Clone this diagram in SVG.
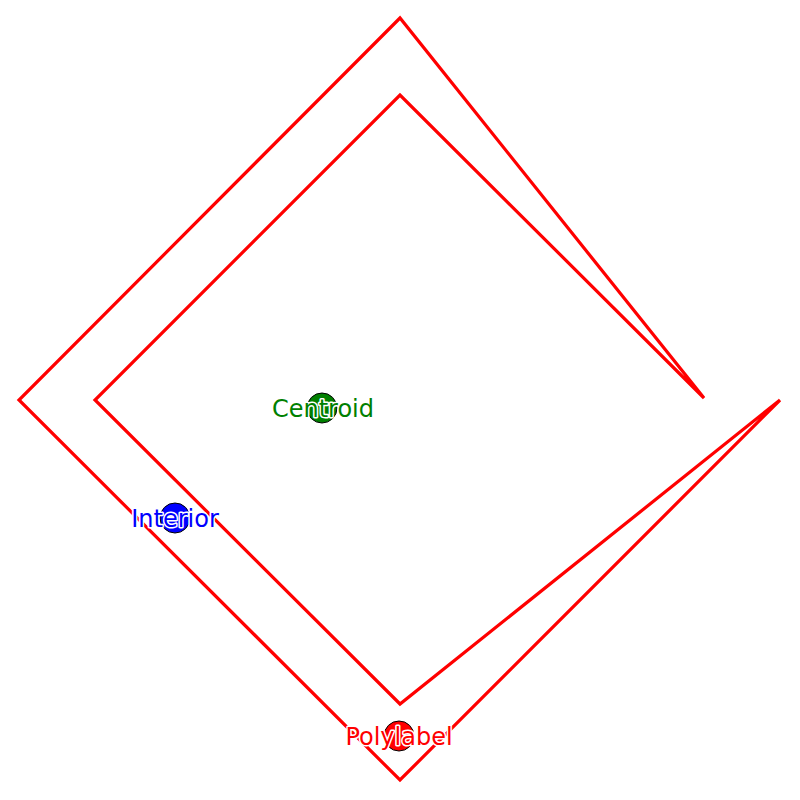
<svg xmlns="http://www.w3.org/2000/svg" width="800" height="800" viewBox="0 0 800 800">
<style>
.shape{fill:none;stroke:#ff0000;stroke-width:3.2;stroke-linejoin:miter;stroke-miterlimit:4}
.pt{stroke:#000;stroke-width:1}
.lbl{font-family:"DejaVu Sans",sans-serif;font-size:24px;text-anchor:middle;stroke:#fff;stroke-width:3;paint-order:stroke;stroke-linejoin:round}
</style>
<rect width="800" height="800" fill="#fff"/>
<g id="polygon">
<polygon class="shape" points="400,18 19,400 400,780 780,400 400,704 95,400 400,95 704,398"/>
</g>
<g id="centroid">
<circle class="pt" cx="322" cy="408" r="15" fill="#008000"/>
<text class="lbl" x="323" y="417" fill="#008000">Centroid</text>
</g>
<g id="interior">
<circle class="pt" cx="175" cy="518" r="15" fill="#0000ff"/>
<text class="lbl" x="175" y="527" fill="#0000ff">Interior</text>
</g>
<g id="polylabel">
<circle class="pt" cx="399" cy="736" r="15" fill="#ff0000"/>
<text class="lbl" x="399" y="745" fill="#ff0000">Polylabel</text>
</g>
</svg>
